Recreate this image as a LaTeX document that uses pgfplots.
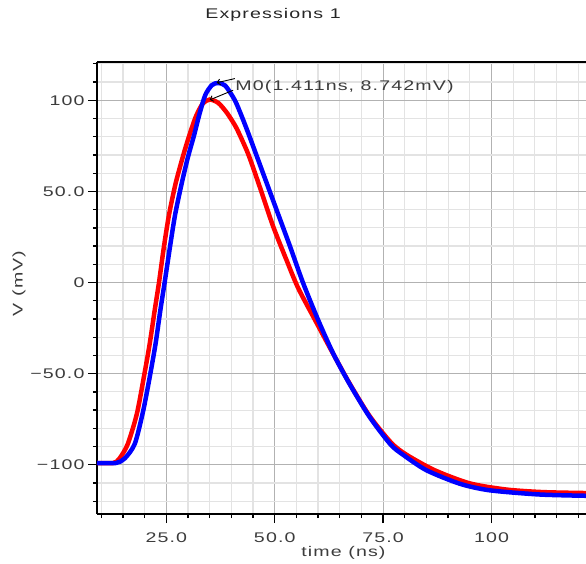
\documentclass[border=0pt]{standalone}
\usepackage{pgfplots}
\pgfplotsset{compat=1.18}
\usetikzlibrary{arrows.meta}
\usepackage{fontspec}
\setmainfont{Liberation Sans}[FakeStretch=1.4, LetterSpace=8]
\definecolor{txt}{HTML}{3C3C3C}

\begin{document}
\begin{tikzpicture}
\useasboundingbox (-97pt,-49pt) rectangle (489pt,514pt);
\begin{axis}[
    at={(0,0)}, anchor=south west,
    scale only axis, width=489pt, height=452pt,
    xmin=9, xmax=121.8, ymin=-127, ymax=121,
    axis x line*=box, axis y line*=left,
    axis line style={-, black, line width=2.5pt},
    tick pos=left, tick align=outside,
    major tick length=9pt, minor tick length=4pt,
    tick style={black, line width=1.3pt},
    xtick={25,50,75,100}, xticklabels={25.0,50.0,75.0,100},
    ytick={-100,-50,0,50,100}, yticklabels={−100,−50.0,0,50.0,100},
    minor xtick={10,15,20,30,35,40,45,55,60,65,70,80,85,90,95,105,110,115,120},
    minor ytick={-120,-110,-90,-80,-70,-60,-40,-30,-20,-10,10,20,30,40,60,70,80,90,110,120},
    grid=both,
    minor grid style={gray!22, line width=1.2pt},
    major grid style={gray!60, line width=1.2pt},
    tick label style={font=\fontsize{14}{16}\selectfont, text=txt},
    xticklabel style={yshift=-6pt},
    xlabel={time (ns)},
    xlabel style={font=\fontsize{14}{16}\selectfont, text=txt,
        at={(axis description cs:0.504,0)}, anchor=center, yshift=-39pt},
    ylabel={V (mV)},
    ylabel style={font=\fontsize{14}{16}\selectfont, text=txt,
        at={([xshift=-78pt]axis description cs:0,0.51)}, anchor=center},
    clip mode=individual,
]

% red trace
\addplot[draw=red, line width=4.5pt, smooth, tension=0.45] coordinates {
    (9,-99) (12.8,-99) (14.2,-96.5) (16.1,-88.6) (18.2,-72) (19.8,-52)
    (21.15,-33.7) (22.3,-15.4) (23.3,0) (24.4,19) (25.6,37) (27.1,54)
    (28.8,69) (30.2,80) (31.8,91) (33.4,98.2) (35.0,100.4) (37,98.5) (39,93)
    (41,85.5) (42.7,77) (44.2,68.5) (46.9,50) (49.6,31) (52.6,13) (55.4,-3)
    (59.4,-21) (63.3,-38.3) (67.3,-55.5) (71.9,-73.3) (76.9,-88) (80.4,-94.5)
    (86.9,-103) (95,-110.2) (103.5,-113.6) (112,-115) (121.8,-115.5)};

% blue trace
\addplot[draw=blue, line width=4.5pt, smooth, tension=0.45] coordinates {
    (9,-99) (13.4,-99) (15.4,-96.5) (17.7,-88.6) (19.6,-71) (21.15,-52)
    (22.5,-33.7) (23.6,-15.4) (24.6,0) (25.8,19) (27.0,37) (28.5,54)
    (30.0,69) (31.3,80) (32.7,93) (34.0,103) (35.5,108.3) (36.9,109.5) (38.6,108)
    (40.8,100) (42.5,90.5) (44.2,80) (47.3,60) (50.4,40) (53.5,20) (56.5,0)
    (60.0,-20.5) (63.5,-39) (67.3,-55.8) (71.9,-73.8) (76.7,-88.8)
    (79.6,-94.5) (85,-103) (92.7,-110.4) (99.6,-114) (111.1,-116.3) (121.8,-117)};

% marker M0
\draw[black, line width=0.9pt, -{Straight Barb[length=3pt,width=6pt]}]
    (axis cs:40.8,111.9) -- (axis cs:36.6,109.6);
\draw[black, line width=0.9pt, -{Straight Barb[length=3pt,width=6pt]}]
    (axis cs:40.4,105.5) -- (axis cs:35.0,100.2);
\node[anchor=west, inner sep=0pt, font=\fontsize{14}{16}\selectfont, text=txt]
    at (axis cs:40.9,107.4) {M0(1.411ns, 8.742mV)};

\node[font=\fontsize{14}{16}\selectfont, text=black!85]
    at ([yshift=47pt]rel axis cs:0.36,1) {Expressions 1};
\end{axis}
\end{tikzpicture}
\end{document}
